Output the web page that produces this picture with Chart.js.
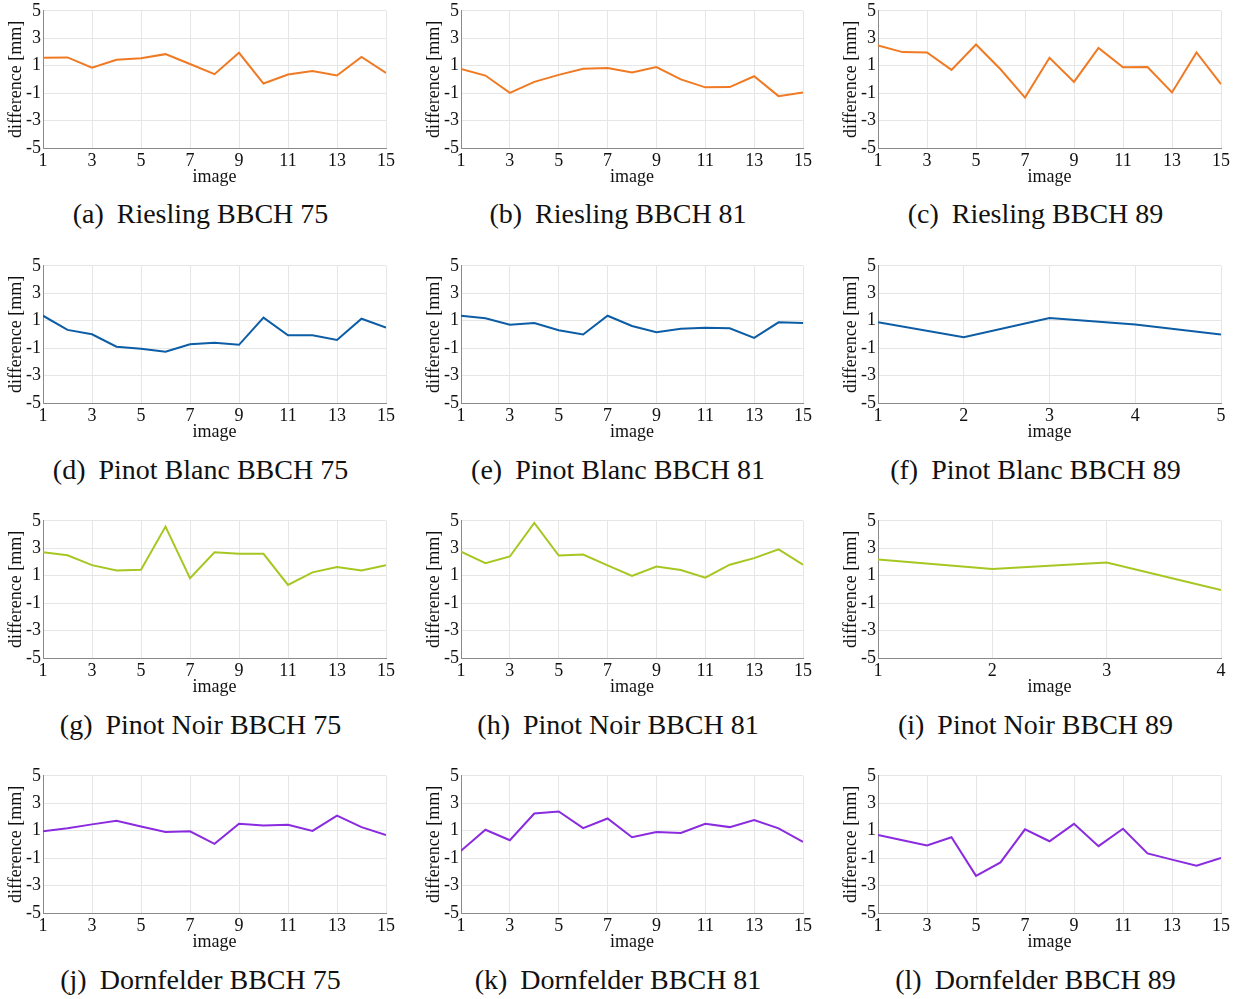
<!DOCTYPE html>
<html>
<head>
<meta charset="utf-8">
<script src="https://cdn.jsdelivr.net/npm/chart.js@4/dist/chart.umd.min.js"></script>
<style>
  body { margin: 0; background: #fff; }
  #page { position: relative; width: 1240px; height: 999px; }
  canvas { position: absolute; }
  .caption {
    position: absolute; width: 420px; text-align: center;
    font-family: "Liberation Serif", serif; font-size: 28px; line-height: 30px; color: #111;
  }
  .caption span { margin-right: 6px; }
</style>
</head>
<body>
<div id="page"></div>
<script>
// values, one array per panel
let rieslingBBCH75 = [1.58, 1.6, 0.85, 1.43, 1.55, 1.84, 1.12, 0.38, 1.94, -0.3, 0.35, 0.62, 0.28, 1.63, 0.47];
let rieslingBBCH81 = [0.76, 0.28, -0.98, -0.18, 0.33, 0.78, 0.83, 0.5, 0.9, 0, -0.58, -0.56, 0.23, -1.22, -0.96];
let rieslingBBCH89 = [2.47, 1.99, 1.96, 0.69, 2.54, 0.74, -1.33, 1.58, -0.18, 2.3, 0.88, 0.9, -0.95, 1.96, -0.35];
let pinotBlancBBCH75 = [1.36, 0.33, 0.01, -0.9, -1.05, -1.27, -0.72, -0.6, -0.76, 1.22, -0.06, -0.06, -0.4, 1.14, 0.49];
let pinotBlancBBCH81 = [1.36, 1.17, 0.71, 0.83, 0.3, -0.01, 1.36, 0.61, 0.16, 0.42, 0.49, 0.45, -0.25, 0.88, 0.83];
let pinotBlancBBCH89 = [0.88, -0.2, 1.19, 0.73, -0.01];
let pinotNoirBBCH75 = [2.71, 2.49, 1.77, 1.38, 1.43, 4.58, 0.81, 2.71, 2.59, 2.59, 0.33, 1.24, 1.63, 1.38, 1.77];
let pinotNoirBBCH81 = [2.76, 1.91, 2.4, 4.85, 2.47, 2.54, 1.75, 0.98, 1.67, 1.41, 0.86, 1.8, 2.28, 2.92, 1.8];
let pinotNoirBBCH89 = [2.18, 1.48, 1.96, -0.05];
let dornfelderBBCH75 = [0.95, 1.17, 1.46, 1.72, 1.31, 0.9, 0.95, 0.04, 1.5, 1.38, 1.43, 0.98, 2.1, 1.26, 0.69];
let dornfelderBBCH81 = [-0.46, 1.07, 0.3, 2.25, 2.4, 1.19, 1.89, 0.52, 0.9, 0.83, 1.5, 1.26, 1.77, 1.17, 0.18];
let dornfelderBBCH89 = [0.69, 0.3, -0.08, 0.52, -2.29, -1.31, 1.1, 0.23, 1.5, -0.13, 1.14, -0.66, -1.11, -1.55, -0.99];

let captions = [
    ['(a)', 'Riesling BBCH 75'], ['(b)', 'Riesling BBCH 81'], ['(c)', 'Riesling BBCH 89'],
    ['(d)', 'Pinot Blanc BBCH 75'], ['(e)', 'Pinot Blanc BBCH 81'], ['(f)', 'Pinot Blanc BBCH 89'],
    ['(g)', 'Pinot Noir BBCH 75'], ['(h)', 'Pinot Noir BBCH 81'], ['(i)', 'Pinot Noir BBCH 89'],
    ['(j)', 'Dornfelder BBCH 75'], ['(k)', 'Dornfelder BBCH 81'], ['(l)', 'Dornfelder BBCH 89']
];
let yTicks = [-5, -3, -1, 1, 3, 5];
let xTicksLong = [1, 3, 5, 7, 9, 11, 13, 15];
let xTicksFive = [1, 2, 3, 4, 5];
let xTicksFour = [1, 2, 3, 4];
let xTitle = 'image';
let yTitle = 'difference [mm]';

let series = [
    rieslingBBCH75, rieslingBBCH81, rieslingBBCH89,
    pinotBlancBBCH75, pinotBlancBBCH81, pinotBlancBBCH89,
    pinotNoirBBCH75, pinotNoirBBCH81, pinotNoirBBCH89,
    dornfelderBBCH75, dornfelderBBCH81, dornfelderBBCH89
];
let rowColors = ['#f07a24', '#0c5da5', '#a6c722', '#8a2be0'];

// plot area geometry
let colLeft = [43, 461, 878];
let colRight = [386, 803, 1221];
let rowTop = [10, 265, 520, 775];
let plotH = 138;
let captionY = [214, 470, 725, 980];

Chart.defaults.font.family = '"Liberation Serif", serif';
Chart.defaults.color = '#111';

let page = document.getElementById('page');

series.forEach(function (values, i) {
    let row = Math.floor(i / 3);
    let col = i % 3;
    let plotW = colRight[col] - colLeft[col];
    let padTop = 12, padRight = 14, axisW = 43, axisH = 40;

    let canvas = document.createElement('canvas');
    canvas.width = axisW + plotW + padRight;
    canvas.height = padTop + plotH + axisH;
    canvas.style.left = (colLeft[col] - axisW) + 'px';
    canvas.style.top = (rowTop[row] - padTop) + 'px';
    page.appendChild(canvas);

    let xTicks = values.length === 15 ? xTicksLong : (values.length === 5 ? xTicksFive : xTicksFour);
    let points = values.map((v, k) => ({ x: k + 1, y: v }));

    new Chart(canvas.getContext('2d'), {
        type: 'line',
        data: {
            datasets: [{
                data: points,
                borderColor: rowColors[row],
                borderWidth: 2,
                pointRadius: 0,
                tension: 0
            }]
        },
        options: {
            responsive: false,
            animation: false,
            layout: { padding: { left: 0, top: padTop, right: padRight, bottom: 0 } },
            plugins: { legend: { display: false }, tooltip: { enabled: false } },
            scales: {
                x: {
                    type: 'linear',
                    min: 1,
                    max: values.length,
                    afterBuildTicks: s => { s.ticks = xTicks.map(v => ({ value: v })); },
                    afterFit: s => { s.height = axisH; },
                    grid: { color: '#e6e6e6', drawTicks: false },
                    border: { color: '#8a8a8a', width: 1 },
                    ticks: { padding: 2, maxRotation: 0, font: { size: 18 } },
                    title: { display: true, text: xTitle, font: { size: 18 }, padding: 0 }
                },
                y: {
                    min: -5,
                    max: 5,
                    afterBuildTicks: s => { s.ticks = yTicks.map(v => ({ value: v })); },
                    afterFit: s => { s.width = axisW; },
                    grid: { color: '#e6e6e6', drawTicks: false },
                    border: { color: '#8a8a8a', width: 1 },
                    ticks: { padding: 2, font: { size: 18 } },
                    title: { display: true, text: yTitle, font: { size: 18 }, padding: { top: 5, bottom: 0 } }
                }
            }
        }
    });

    let cap = document.createElement('div');
    cap.className = 'caption';
    let centerX = (colLeft[col] + colRight[col]) / 2 - 14;
    cap.style.left = (centerX - 210) + 'px';
    cap.style.top = (captionY[row] - 15) + 'px';
    let label = document.createElement('span');
    label.textContent = captions[i][0];
    cap.appendChild(label);
    cap.appendChild(document.createTextNode(' ' + captions[i][1]));
    page.appendChild(cap);
});
</script>
</body>
</html>
